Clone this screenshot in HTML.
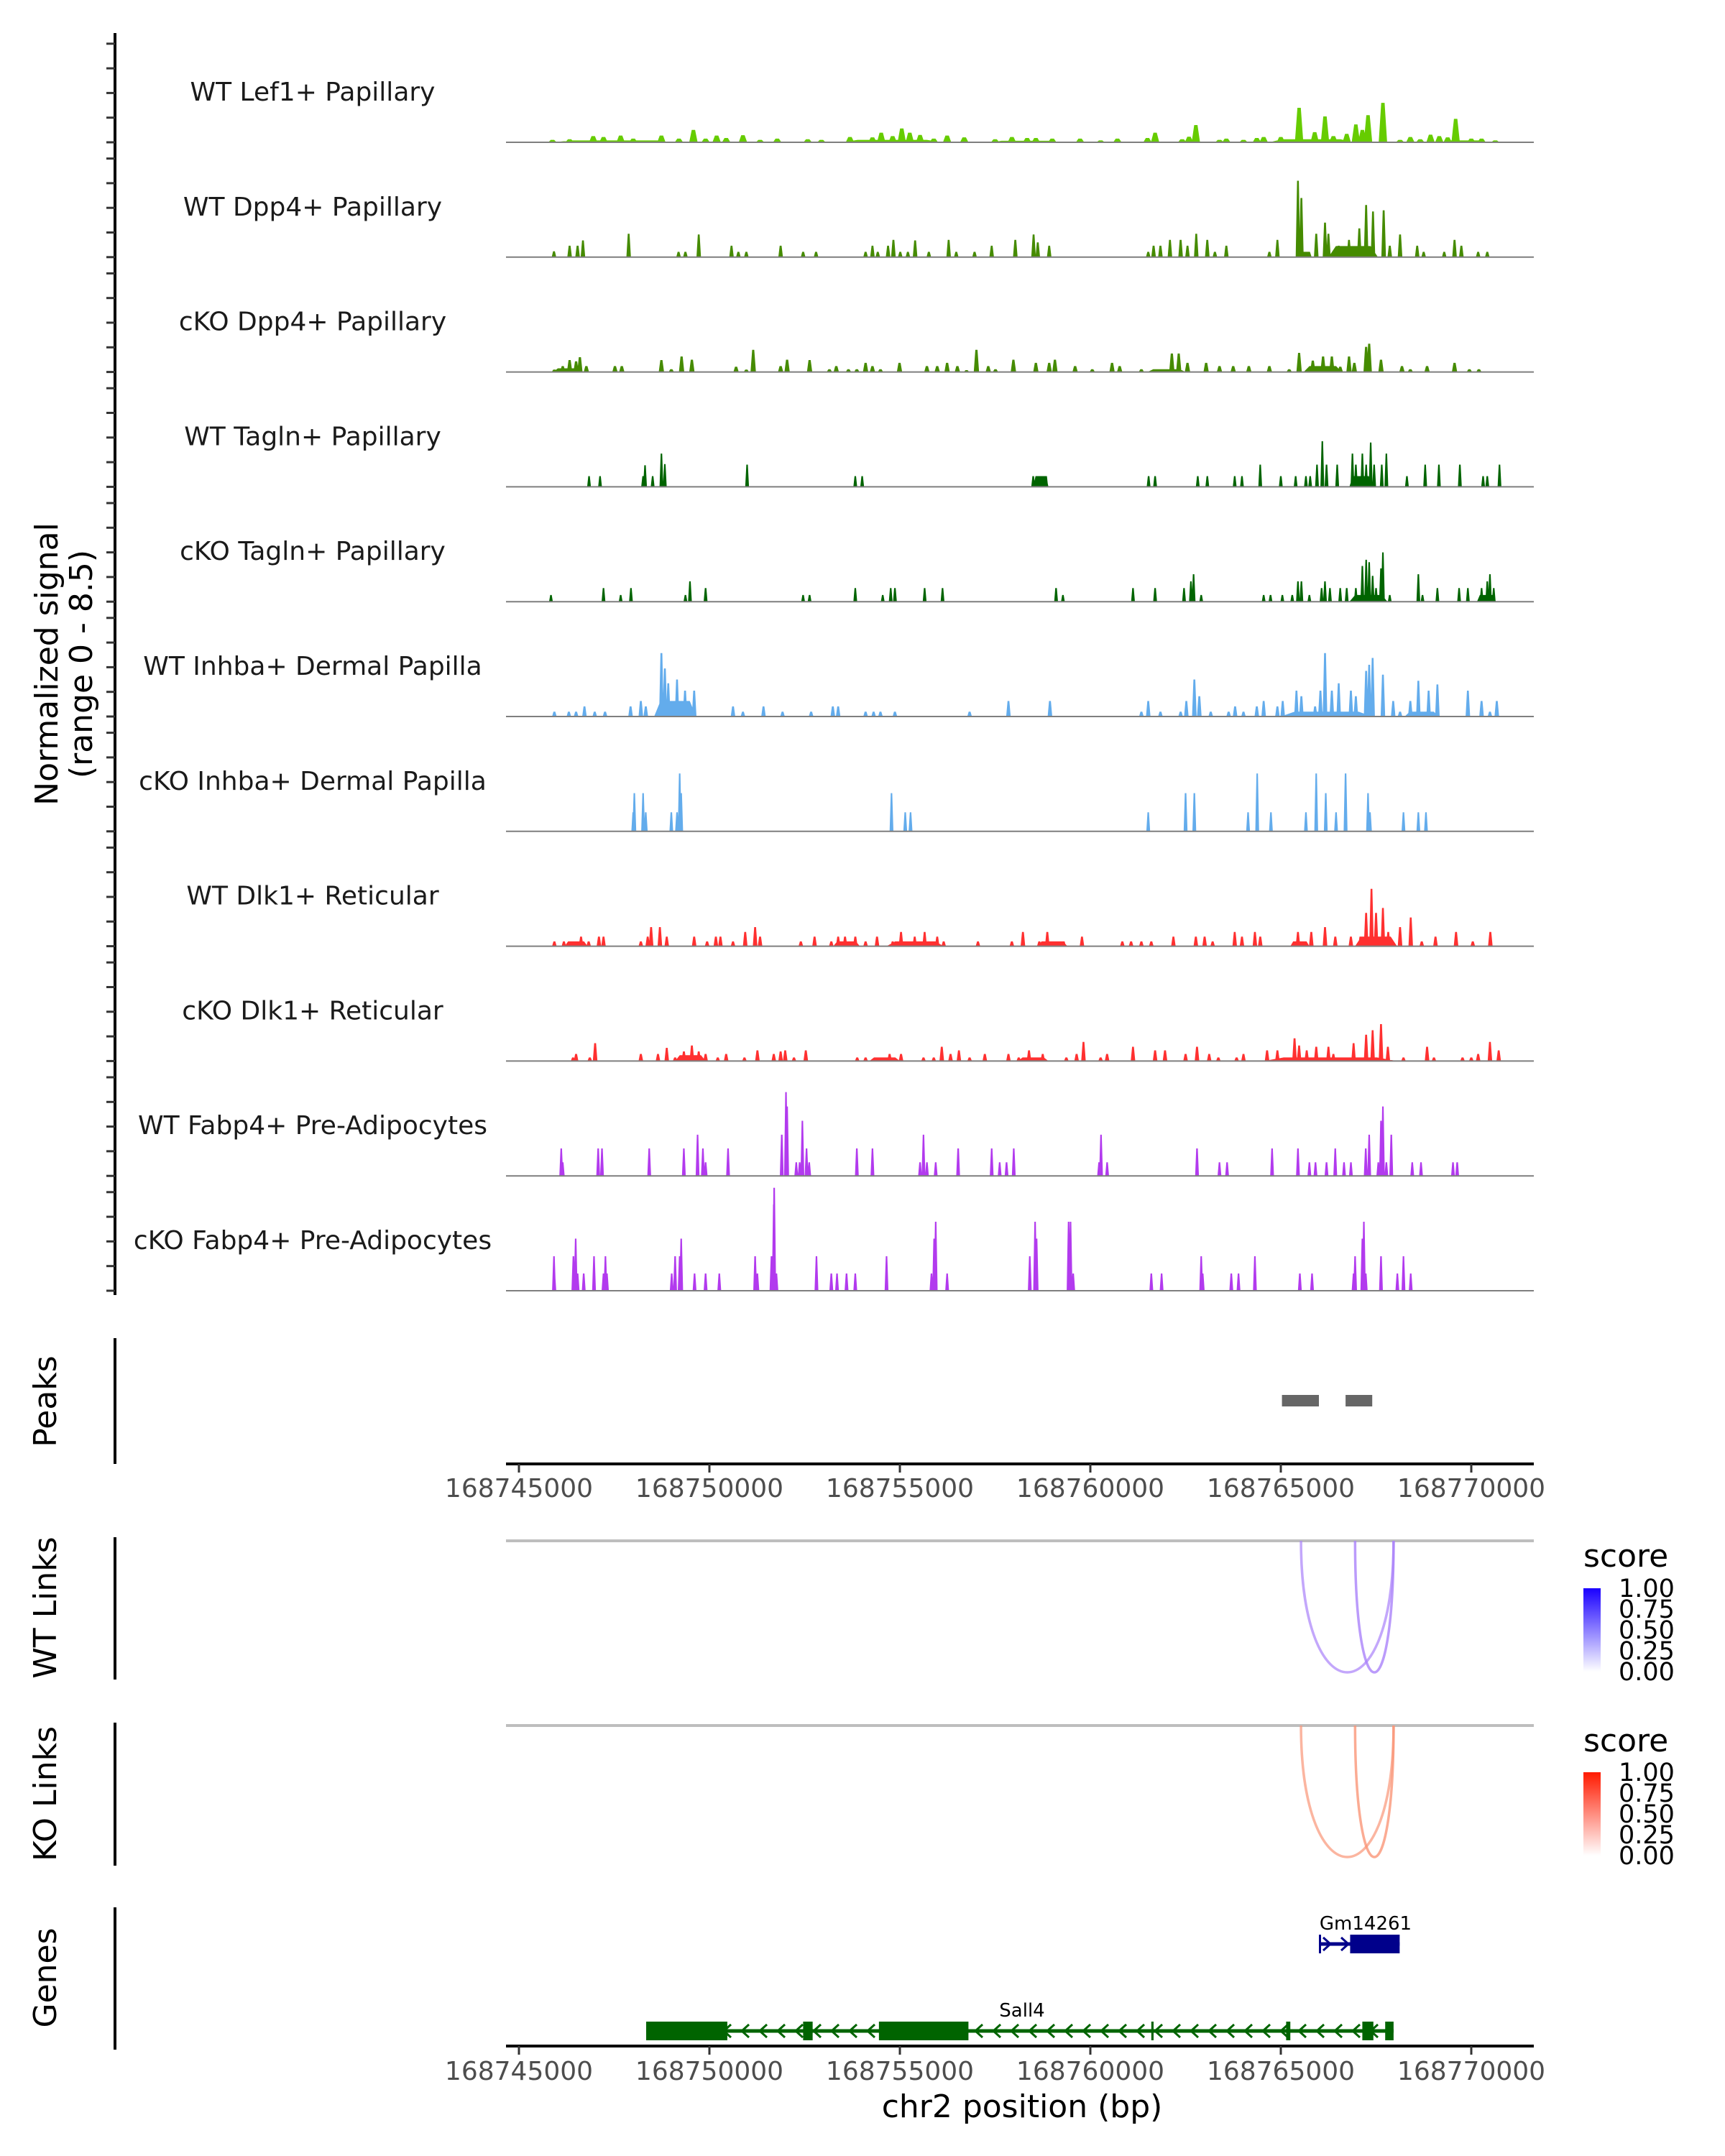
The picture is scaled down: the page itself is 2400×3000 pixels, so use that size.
<!DOCTYPE html>
<html><head><meta charset="utf-8">
<style>
html,body{margin:0;padding:0;background:#fff;}
svg{display:block;font-family:"DejaVu Sans","Liberation Sans",sans-serif;}
</style></head>
<body>
<svg id="chart" width="2400" height="3000" viewBox="0 0 2400 3000" xmlns="http://www.w3.org/2000/svg">
<rect width="2400" height="3000" fill="#fff"/>
<g id="tracks"></g>
<g id="axes"></g>
<g id="links"></g>
<g id="genes"></g>
<text transform="translate(80,924) rotate(-90)" text-anchor="middle" font-size="44" fill="#000">Normalized signal</text>
<text transform="translate(128,924) rotate(-90)" text-anchor="middle" font-size="44" fill="#000">(range 0 - 8.5)</text>
<text transform="translate(78,1950) rotate(-90)" text-anchor="middle" font-size="44" fill="#000">Peaks</text>
<text transform="translate(78,2237) rotate(-90)" text-anchor="middle" font-size="44" fill="#000">WT Links</text>
<text transform="translate(78,2496) rotate(-90)" text-anchor="middle" font-size="44" fill="#000">KO Links</text>
<text transform="translate(78,2752) rotate(-90)" text-anchor="middle" font-size="44" fill="#000">Genes</text>
<text x="1422" y="2946" text-anchor="middle" font-size="44" fill="#000">chr2 position (bp)</text>
<defs>
<linearGradient id="gBlue" x1="0" y1="1" x2="0" y2="0"><stop offset="0" stop-color="#ffffff"/><stop offset="1" stop-color="#1a00ff"/></linearGradient>
<linearGradient id="gRed" x1="0" y1="1" x2="0" y2="0"><stop offset="0" stop-color="#ffffff"/><stop offset="1" stop-color="#ff1a00"/></linearGradient>
</defs>
<g>
<text x="2203" y="2180" font-size="44" fill="#000">score</text>
<rect x="2203" y="2210" width="24" height="116" fill="url(#gBlue)"/>
<text x="2252" y="2222" font-size="35">1.00</text><text x="2252" y="2251" font-size="35">0.75</text><text x="2252" y="2280" font-size="35">0.50</text><text x="2252" y="2309" font-size="35">0.25</text><text x="2252" y="2338" font-size="35">0.00</text>
</g>
<g>
<text x="2203" y="2437" font-size="44" fill="#000">score</text>
<rect x="2203" y="2466" width="24" height="116" fill="url(#gRed)"/>
<text x="2252" y="2478" font-size="35">1.00</text><text x="2252" y="2507" font-size="35">0.75</text><text x="2252" y="2536" font-size="35">0.50</text><text x="2252" y="2565" font-size="35">0.25</text><text x="2252" y="2594" font-size="35">0.00</text>
</g>
</svg>
<script>
const NS="http://www.w3.org/2000/svg";
const REGION_START=168745000;
// track names
const trackNames=["WT Lef1+ Papillary","WT Dpp4+ Papillary","cKO Dpp4+ Papillary","WT Tagln+ Papillary","cKO Tagln+ Papillary","WT Inhba+ Dermal Papilla","cKO Inhba+ Dermal Papilla","WT Dlk1+ Reticular","cKO Dlk1+ Reticular","WT Fabp4+ Pre-Adipocytes","cKO Fabp4+ Pre-Adipocytes"];
// peaks: [kb offset from region start, normalized signal, optional width kb]
const wtLef1=[[0.88,0.2],[1.33,0.25],[1.95,0.5],[2.22,0.43],[2.67,0.55],[3.0,0.3],[3.74,0.55],[4.2,0.3],[4.58,1.0],[4.9,0.3],[5.19,0.55],[5.44,0.35],[5.88,0.58],[6.33,0.2],[6.78,0.3],[7.58,0.25],[7.94,0.2],[8.69,0.43],[9.28,0.4],[9.51,0.78],[9.81,0.5],[10.05,1.12],[10.26,0.78],[10.53,0.6],[10.89,0.3],[11.24,0.55],[11.69,0.4],[12.5,0.25],[12.94,0.43],[13.34,0.35],[13.57,0.35],[14.0,0.3],[14.73,0.3],[15.27,0.15],[15.71,0.3],[16.5,0.35],[16.7,0.78],[17.41,0.25],[17.59,0.45],[17.77,1.4],[18.39,0.2],[18.57,0.3],[19.02,0.2],[19.37,0.35],[19.55,0.43],[20.0,0.43],[20.48,2.8],[20.89,0.82],[21.16,2.1],[21.38,0.5],[21.73,0.68],[21.97,1.45],[22.14,1.0],[22.29,2.2],[22.68,3.2],[23.13,0.2],[23.4,0.43],[23.66,0.25],[23.93,0.62],[24.16,0.5],[24.38,0.4],[24.59,1.9],[25.0,0.3],[25.27,0.3],[25.63,0.15],[2.5,0.15,3.2],[9.8,0.2,2.6],[13.3,0.12,1.8],[20.8,0.25,2.2],[24.8,0.15,1.2]];
const wtDpp4=[[0.92,0.48],[1.33,0.93],[1.54,0.93],[1.68,1.36],[2.88,1.9],[4.19,0.43],[4.37,0.43],[4.72,1.84],[5.58,0.93],[5.76,0.43],[5.97,0.43],[6.87,0.93],[7.46,0.43],[7.8,0.43],[9.1,0.43],[9.28,0.93],[9.42,0.43],[9.69,0.93],[9.83,1.4],[10.01,0.43],[10.21,0.43],[10.4,1.36],[10.76,0.43],[11.28,1.4],[11.48,0.43],[11.96,0.43],[12.41,0.93],[13.03,1.4],[13.51,1.84],[13.62,1.2],[13.92,0.93],[16.52,0.43],[16.66,0.93],[16.84,0.93],[17.09,1.4],[17.37,1.4],[17.55,0.93],[17.78,1.9],[18.07,1.4],[18.27,0.43],[18.57,0.93],[19.7,0.43],[19.91,1.4],[20.45,6.2],[20.54,4.8],[20.66,0.43,0.3],[20.93,1.9],[21.16,2.8],[21.25,1.9],[21.52,0.93],[21.79,1.4],[22.06,2.33],[22.24,4.23],[22.42,3.7],[22.7,3.8],[22.86,0.93],[23.13,1.84],[23.58,0.93],[23.75,0.43],[24.29,0.43],[24.56,1.4],[24.74,0.93],[25.18,0.43],[25.42,0.43],[21.9,0.9,1.3]];
const koDpp4=[[0.93,0.2],[1.15,0.48],[1.33,0.97],[1.5,0.87],[1.6,1.2],[1.77,0.48],[2.52,0.48],[2.7,0.48],[3.74,0.97],[4.0,0.23],[4.27,1.26],[4.54,1.0],[5.7,0.43],[5.97,0.2],[6.15,1.8],[6.87,0.48],[7.04,1.0],[7.63,0.97],[8.15,0.23],[8.33,0.48],[8.65,0.23],[8.87,0.23],[9.1,0.74],[9.28,0.48],[9.49,0.23],[9.99,0.74],[10.71,0.48],[10.98,0.48],[11.24,0.74],[11.51,0.48],[11.75,0.15],[12.01,1.8],[12.32,0.48],[12.51,0.23],[12.98,1.0],[13.57,0.74],[13.92,0.74],[14.07,1.0],[14.6,0.48],[15.05,0.23],[15.57,0.74],[15.77,0.48],[16.34,0.23],[16.7,0.23],[16.96,0.23],[17.14,1.5],[17.32,1.5],[17.55,0.74],[18.04,0.74],[18.39,0.48],[18.75,0.48],[19.16,0.48],[19.7,0.48],[20.22,0.23],[20.48,1.55],[20.84,0.93],[21.11,1.26],[21.34,1.26],[21.56,0.43],[21.79,1.26],[21.93,0.74],[22.24,2.04],[22.32,2.3],[22.63,1.0],[23.18,0.48],[23.4,0.23],[23.84,0.48],[24.56,0.74],[24.95,0.23],[25.2,0.23],[17.0,0.23,1.0],[21.1,0.48,1.0],[1.3,0.3,0.8]];
const wtTagln=[[1.84,0.87],[2.13,0.87],[3.26,0.87],[3.31,1.75],[3.51,0.87],[3.74,2.7],[3.83,1.85],[5.99,1.8],[8.83,0.87],[9.01,0.87],[13.5,0.87],[13.66,0.87],[13.84,0.87],[16.53,0.87],[16.7,0.87],[17.82,0.87],[18.07,0.87],[18.79,0.87],[18.98,0.87],[19.46,1.8],[20.0,0.87],[20.39,0.87],[20.66,0.87],[20.77,0.87],[20.95,1.8],[21.09,3.7],[21.2,1.8],[21.48,1.8],[21.88,2.7],[21.97,1.8],[22.14,2.7],[22.24,1.8],[22.36,3.6],[22.45,1.8],[22.65,1.8],[22.77,2.7],[23.31,0.87],[23.79,1.8],[24.15,1.8],[24.7,1.8],[25.31,0.87],[25.42,0.87],[25.74,1.8],[22.1,0.87,0.6],[13.7,0.87,0.4]];
const koTagln=[[0.84,0.54],[2.22,1.1],[2.67,0.54],[2.94,1.1],[4.37,0.54],[4.49,1.65],[4.9,1.1],[7.46,0.54],[7.63,0.54],[8.83,1.1],[9.55,0.54],[9.76,1.1],[9.87,1.1],[10.65,1.1],[11.12,1.1],[14.1,1.1],[14.28,0.54],[16.12,1.1],[16.7,1.1],[17.46,1.1],[17.64,1.65],[17.71,2.23],[17.91,0.54],[19.55,0.54],[19.73,0.54],[20.04,0.54],[20.3,0.54],[20.45,1.65],[20.54,1.65],[20.75,0.54],[21.07,1.1],[21.16,1.65],[21.29,1.1],[21.56,1.1],[21.73,1.1],[21.97,1.1],[22.14,2.9],[22.24,3.4],[22.32,3.2],[22.41,2.1],[22.5,1.1],[22.63,2.7],[22.68,4.0],[22.86,0.54],[23.61,2.23],[23.72,0.54],[24.11,1.1],[24.68,1.1],[24.91,1.1],[25.27,1.1],[25.42,1.65],[25.49,2.23],[25.59,1.1],[22.3,0.54,1.0],[25.4,0.54,0.5]];
const wtInhba=[[0.93,0.39],[1.31,0.39],[1.5,0.39],[1.72,0.82],[1.99,0.39],[2.26,0.39],[2.93,0.82],[3.2,1.26],[3.33,0.82],[3.74,5.15],[3.83,3.9],[3.92,2.7],[4.15,3.0],[4.27,1.26],[4.36,2.1],[4.6,2.1],[5.62,0.82],[5.88,0.39],[6.42,0.82],[6.92,0.39],[7.67,0.39],[8.24,0.82],[8.38,0.82],[9.1,0.39],[9.31,0.39],[9.49,0.39],[9.87,0.39],[11.83,0.39],[12.85,1.26],[13.94,1.26],[16.34,0.39],[16.52,1.26],[16.84,0.39],[17.37,0.39],[17.52,1.26],[17.73,3.0],[17.86,1.65],[18.16,0.39],[18.63,0.39],[18.8,0.82],[19.02,0.39],[19.37,0.82],[19.55,1.26],[19.91,0.82],[20.05,1.26],[20.41,2.1],[20.54,1.65],[20.9,0.82],[21.04,2.1],[21.16,5.15],[21.34,2.1],[21.52,2.7],[21.84,2.1],[21.97,1.65],[22.24,3.7],[22.32,4.2],[22.41,4.75],[22.68,3.4],[22.95,1.26],[23.13,0.39],[23.4,1.26],[23.61,2.9],[23.88,2.1],[24.11,2.6],[24.91,2.1],[25.27,1.26],[25.49,0.39],[25.67,1.26],[21.2,0.39,2.4],[4.1,1.26,1.1],[23.7,0.39,0.9]];
const koInhba=[[3.03,3.1],[3.26,3.1],[3.0,1.55],[3.33,1.55],[4.0,1.55],[4.15,1.55],[4.22,4.7],[4.26,3.1],[9.78,3.1],[10.14,1.55],[10.28,1.55],[16.52,1.55],[17.5,3.1],[17.73,3.1],[19.14,1.55],[19.38,4.7],[19.74,1.55],[20.66,1.55],[20.93,4.7],[21.18,3.1],[21.45,1.55],[21.7,4.7],[22.29,3.1],[22.34,1.55],[23.22,1.55],[23.61,1.55],[23.81,1.55]];
const wtDlk1=[[0.93,0.39],[1.18,0.39],[1.33,0.39],[1.47,0.39],[1.63,0.78],[1.83,0.39],[2.1,0.78],[2.22,0.78],[3.2,0.39],[3.38,0.78],[3.47,1.55],[3.7,1.55],[3.88,0.78],[4.6,0.78],[4.94,0.39],[5.17,0.78],[5.29,0.78],[5.62,0.39],[5.94,1.16],[6.2,1.55],[6.33,0.78],[7.4,0.39],[7.76,0.78],[8.2,0.39],[8.38,0.78],[8.56,0.78],[8.83,0.78],[9.1,0.39],[9.4,0.78],[9.81,0.39],[10.03,1.16],[10.39,0.78],[10.65,1.16],[10.98,0.78],[11.15,0.39],[12.05,0.39],[12.94,0.39],[13.23,1.16],[13.66,0.39],[13.87,1.16],[14.1,0.39],[14.3,0.39],[14.78,0.78],[15.84,0.39],[16.07,0.39],[16.34,0.39],[16.6,0.39],[17.18,0.78],[17.77,0.78],[18.0,0.78],[18.21,0.39],[18.79,1.16],[18.98,0.78],[19.32,1.16],[19.46,0.78],[20.45,1.16],[20.8,1.16],[21.16,1.55],[21.43,0.78],[21.84,0.78],[22.09,0.78],[22.24,2.7],[22.38,4.66],[22.5,2.7],[22.68,3.1],[22.82,1.16],[23.13,1.55],[23.41,2.33],[23.7,0.39],[24.06,0.78],[24.6,1.16],[25.04,0.39],[25.5,1.16],[8.6,0.39,0.7],[20.5,0.39,0.5],[22.5,0.78,1.1],[14.0,0.39,0.8],[10.4,0.39,1.5],[1.5,0.39,0.6]];
const koDlk1=[[1.42,0.29],[1.5,0.58],[1.86,0.29],[2.0,1.45],[3.2,0.58],[3.65,0.58],[3.88,1.07],[4.1,0.29],[4.33,0.78],[4.54,1.26],[4.72,0.78],[4.9,0.58],[5.22,0.29],[5.44,0.58],[5.92,0.29],[6.26,0.87],[6.69,0.58],[6.87,0.78],[6.99,0.87],[7.22,0.29],[7.53,0.87],[8.88,0.29],[9.1,0.29],[9.42,0.29],[9.73,0.58],[10.03,0.58],[10.62,0.29],[10.89,0.29],[11.1,1.16],[11.33,0.58],[11.55,0.87],[11.83,0.29],[12.23,0.58],[12.85,0.58],[13.12,0.29],[13.39,0.87],[13.75,0.58],[14.37,0.29],[14.64,0.58],[14.82,1.55],[15.27,0.29],[15.44,0.58],[16.12,1.16],[16.7,0.87],[16.96,0.87],[17.5,0.58],[17.8,1.16],[18.12,0.58],[18.36,0.29],[18.84,0.29],[19.02,0.58],[19.64,0.87],[19.91,0.87],[20.36,1.84],[20.48,1.26],[20.68,0.87],[20.93,1.16],[21.25,1.16],[21.38,0.58],[21.91,1.45],[22.24,2.14],[22.41,2.5],[22.63,3.0],[22.81,1.16],[23.22,0.29],[23.84,1.16],[24.02,0.29],[24.77,0.29],[25.0,0.29],[25.18,0.58],[25.49,1.55],[25.72,0.87],[4.5,0.48,0.8],[21.3,0.29,3.5],[9.6,0.29,0.8],[13.5,0.29,0.8]];
const wtFabp4=[[1.11,2.23],[1.15,1.1],[2.08,2.23],[2.18,2.23],[3.42,2.23],[4.33,2.23],[4.69,3.34],[4.83,2.23],[4.9,1.1],[5.49,2.23],[6.9,3.34],[7.01,6.8],[7.04,5.63],[7.28,1.1],[7.37,1.1],[7.44,4.47],[7.55,2.23],[7.62,1.1],[8.87,2.23],[9.28,2.23],[10.53,1.1],[10.62,3.34],[10.71,1.1],[10.94,1.1],[11.53,2.23],[12.41,2.23],[12.62,1.1],[12.8,1.1],[12.99,2.23],[15.23,1.1],[15.28,3.34],[15.44,1.1],[17.8,2.23],[18.39,1.1],[18.59,1.1],[19.77,2.23],[20.45,2.23],[20.75,1.1],[20.91,1.1],[21.2,1.1],[21.43,2.23],[21.66,1.1],[21.84,1.1],[22.23,2.23],[22.32,3.34],[22.56,1.1],[22.63,4.47],[22.68,5.63],[22.77,1.1],[22.9,3.34],[23.45,1.1],[23.68,1.1],[24.52,1.1],[24.63,1.1]];
const koFabp4=[[0.92,2.8],[0.93,1.4],[1.43,2.8],[1.49,4.23],[1.54,1.4],[1.7,1.4],[1.97,2.8],[2.22,1.4],[2.27,2.8],[2.31,1.4],[4.01,1.4],[4.1,2.8],[4.22,2.8],[4.26,4.23],[4.61,1.4],[4.9,1.4],[5.26,1.4],[6.2,2.8],[6.26,1.4],[6.63,2.8],[6.69,7.0],[6.7,8.35],[6.76,1.4],[7.81,2.8],[8.2,1.4],[8.35,1.4],[8.6,1.4],[8.83,1.4],[9.65,2.8],[10.83,1.4],[10.9,4.23],[10.94,5.6],[11.24,1.4],[13.41,2.8],[13.55,5.6],[13.59,4.23],[14.43,5.6],[14.48,5.6],[14.55,1.4],[16.6,1.4],[16.87,1.4],[17.91,2.8],[17.95,1.4],[18.7,1.4],[18.89,1.4],[19.32,2.8],[20.5,1.4],[20.82,1.4],[21.91,1.4],[21.95,2.8],[22.14,4.23],[22.18,5.6],[22.23,1.4],[22.63,2.8],[23.06,1.4],[23.22,2.8],[23.41,1.4]];
const trackSignals=[wtLef1,wtDpp4,koDpp4,wtTagln,koTagln,wtInhba,koInhba,wtDlk1,koDlk1,wtFabp4,koFabp4];
const xTickValues=[168745000,168750000,168755000,168760000,168765000,168770000];
const peakStartsKb=[20.03,21.7];
const peakEndsKb=[21.0,22.4];
const wtLinkStartKb=[20.53,21.95];
const wtLinkEndKb=[22.96,22.96];
const wtLinkScore=[0.35,0.45];
const koLinkStartKb=[20.53,21.95];
const koLinkEndKb=[22.96,22.96];
const koLinkScore=[0.35,0.45];
const sall4ExonStartKb=[3.34,7.46,9.45,16.6,20.14,22.14,22.74];
const sall4ExonEndKb=[5.47,7.71,11.8,16.66,20.25,22.43,22.96];
const gmExonStartKb=[21.0,21.82];
const gmExonEndKb=[21.05,23.12];

// styles
const trackColors=["#66cc00","#458b00","#458b00","#006400","#006400","#63acec","#63acec","#ff3030","#ff3030","#b23aee","#b23aee"];
const trackDefaultW=[0.22,0.12,0.14,0.1,0.1,0.12,0.1,0.12,0.12,0.1,0.1];
const BASE0=198, STEP=159.8, UNIT=17.15, XL=704, XR=2134;
function X(kb){return 722+kb*53;}
function xbp(bp){return X((bp-REGION_START)/1000);}
function el(tag,attrs,parent){const e=document.createElementNS(NS,tag);for(const k in attrs)e.setAttribute(k,attrs[k]);parent.appendChild(e);return e;}

const tg=document.getElementById('tracks');
trackNames.forEach((nm,i)=>{
  const base=BASE0+i*STEP;
  const g=el('g',{},tg);
  
  
  const lbl=el('text',{x:435,y:base-58,'text-anchor':'middle','font-size':36,fill:'#1a1a1a'},g);
  
  
  lbl.textContent=nm;
  let d='';
  trackSignals[i].forEach(p=>{
    const w=(p[2]||trackDefaultW[i]);
    const xl=X(p[0]-w/2), xr=X(p[0]+w/2), top=base-p[1]*UNIT;
    const inset=(p[2]?0.15:0.3)*(xr-xl);
    d+=`M${xl.toFixed(1)},${base}L${(xl+inset).toFixed(1)},${top.toFixed(1)}L${(xr-inset).toFixed(1)},${top.toFixed(1)}L${xr.toFixed(1)},${base}Z`;
  });
  const pth=el('path',{d:d,fill:trackColors[i]},g);
  
  
  const bl=el('line',{x1:XL,x2:XR,y1:base,y2:base,stroke:'#7f7f7f','stroke-width':2},g);
  
  
});

const ax=document.getElementById('axes');
const yl=el('line',{x1:160,x2:160,y1:46,y2:1802,stroke:'#000','stroke-width':4},ax);


for(let i=0;i<11;i++){const base=BASE0+i*STEP;for(let k=0;k<5;k++){const y=base-k*2*UNIT;
  const t=el('line',{x1:148,x2:160,y1:y,y2:y,stroke:'#333','stroke-width':3},ax);
  
  }}
[[1862,2037],[2139,2337],[2397,2596],[2654,2852]].forEach(r=>{
  const l=el('line',{x1:160,x2:160,y1:r[0],y2:r[1],stroke:'#000','stroke-width':4},ax);
  
  });
peakStartsKb.forEach((s,i)=>{const r=el('rect',{x:X(s),y:1941,width:X(peakEndsKb[i])-X(s),height:16,fill:'#666'},ax);
  
  });
[[2037,2070],[2847,2881]].forEach(a=>{
  const l=el('line',{x1:XL,x2:XR,y1:a[0],y2:a[0],stroke:'#000','stroke-width':4},ax);
  
  
  xTickValues.forEach(v=>{const x=xbp(v);
    const t=el('line',{x1:x,x2:x,y1:a[0],y2:a[0]+12,stroke:'#333','stroke-width':3},ax);
    
    
    const tx=el('text',{x:x,y:a[1]+13,'text-anchor':'middle','font-size':36,fill:'#4d4d4d'},ax);
    
    
    tx.textContent=String(v);});
});
const lg=document.getElementById('links');
function linkPanel(base,starts,ends,scores,rgb,name){
  const b=el('line',{x1:XL,x2:XR,y1:base,y2:base,stroke:'#bebebe','stroke-width':4},lg);
  
  
  starts.forEach((s,i)=>{const x1=X(s),x2=X(ends[i]),depth=183,cy=base+depth*4/3;
    const col=`rgba(${rgb},${0.35+scores[i]})`;
    const p=el('path',{d:`M${x1},${base} C${x1},${cy} ${x2},${cy} ${x2},${base}`,fill:'none',stroke:col,'stroke-width':3.5},lg);
    
    });
}
linkPanel(2144,wtLinkStartKb,wtLinkEndKb,wtLinkScore,'170,130,250','wt-link');
linkPanel(2401,koLinkStartKb,koLinkEndKb,koLinkScore,'250,150,120','ko-link');
const gg=document.getElementById('genes');
function gene(y,starts,ends,col,dir,label,lx,name){
  const x0=X(starts[0]),x1=X(ends[ends.length-1]);
  const l=el('line',{x1:x0,x2:x1,y1:y,y2:y,stroke:col,'stroke-width':5},gg);
  
  
  for(let x=x0+12;x<x1-6;x+=25){
    const d=dir<0?`M${x+6},${y-9}L${x-4},${y}L${x+6},${y+9}`:`M${x-6},${y-9}L${x+4},${y}L${x-6},${y+9}`;
    const c=el('path',{d:d,fill:'none',stroke:col,'stroke-width':3},gg);
    
    }
  starts.forEach((s,i)=>{const r=el('rect',{x:X(s),y:y-13,width:Math.max(3,X(ends[i])-X(s)),height:26,fill:col},gg);
    
    });
  const t=el('text',{x:lx,y:y-20,'text-anchor':'middle','font-size':26,fill:'#000'},gg);
  
  
  t.textContent=label;
}
gene(2705,gmExonStartKb,gmExonEndKb,'#00008b',1,'Gm14261',1900,'gm14261');
gene(2826,sall4ExonStartKb,sall4ExonEndKb,'#006400',-1,'Sall4',1422,'sall4');
</script>
</body></html>
